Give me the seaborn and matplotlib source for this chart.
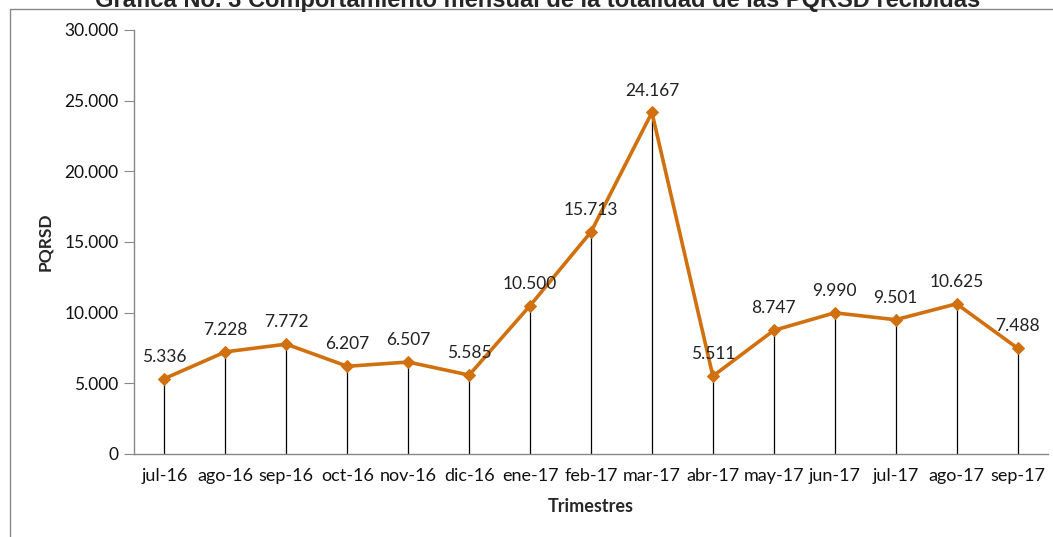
import matplotlib
matplotlib.use("Agg")
import matplotlib.pyplot as plt
from matplotlib.lines import Line2D
from matplotlib.ticker import FuncFormatter
import pandas as pd
import seaborn as sns

meses = ["jul-16", "ago-16", "sep-16", "oct-16", "nov-16", "dic-16", "ene-17",
         "feb-17", "mar-17", "abr-17", "may-17", "jun-17", "jul-17", "ago-17", "sep-17"]
pqrsd = [5336, 7228, 7772, 6207, 6507, 5585, 10500, 15713, 24167, 5511,
         8747, 9990, 9501, 10625, 7488]
y_ticks = [0, 5000, 10000, 15000, 20000, 25000, 30000]

titulo = "Gráfica No. 3 Comportamiento mensual de la totalidad de las PQRSD recibidas"


def miles(v):
    return f"{int(v):,}".replace(",", ".")


df = pd.DataFrame({"mes": meses, "pqrsd": pqrsd})
df["pos"] = range(len(df))

sns.set_style("white")
plt.rcParams["font.family"] = ["Lato", "DejaVu Sans"]

W, H = 1053, 537
fig = plt.figure(figsize=(W / 100, H / 100), dpi=100)
ax = fig.add_axes([134 / W, 1 - 454 / H, (1048 - 134) / W, (454 - 30) / H])

naranja = "#D0700F"

# lineas de caida hasta el eje
ax.vlines(df["pos"], 0, df["pqrsd"], color="black", lw=0.9, zorder=1)
sns.lineplot(data=df, x="pos", y="pqrsd", ax=ax, color=naranja, lw=2.6,
             marker="D", markersize=6, markeredgecolor=naranja, zorder=3)

for x, y in zip(df["pos"], df["pqrsd"]):
    ax.annotate(miles(y), (x, y), xytext=(0, 10), textcoords="offset points",
                ha="center", va="bottom", fontsize=12.5, color="#222222")

ax.set_xlim(-0.5, len(meses) - 0.5)
ax.set_ylim(0, 30000)
ax.set_yticks(y_ticks)
ax.yaxis.set_major_formatter(FuncFormatter(lambda v, p: miles(v)))
ax.set_xticks(df["pos"])
ax.set_xticklabels(meses)
ax.tick_params(axis="x", length=0, pad=10, labelsize=13, labelcolor="#111111")
ax.tick_params(axis="y", length=7, width=0.8, color="#888888", left=True,
               pad=4, labelsize=12.5, labelcolor="#111111")

for s in ["top", "right"]:
    ax.spines[s].set_visible(False)
for s in ["left", "bottom"]:
    ax.spines[s].set_color("#888888")
    ax.spines[s].set_linewidth(1)

ax.set_xlabel("Trimestres", fontsize=13, fontweight="bold", labelpad=10)
ax.set_ylabel("PQRSD", fontsize=12.5, fontweight="bold", labelpad=8)

# marco del grafico y titulo recortado arriba, como en el original
fig.add_artist(Line2D([10 / W, 1], [1 - 9 / H, 1 - 9 / H], color="#888888", lw=1,
                      transform=fig.transFigure))
fig.add_artist(Line2D([10 / W, 10 / W], [0, 1 - 9 / H], color="#888888", lw=1,
                      transform=fig.transFigure))
fig.text(538 / W, 1 - 6.5 / H, titulo, ha="center", va="baseline",
         fontsize=17, fontweight="bold", family=["Liberation Sans", "DejaVu Sans"])

fig.savefig("out.png", dpi=100)
